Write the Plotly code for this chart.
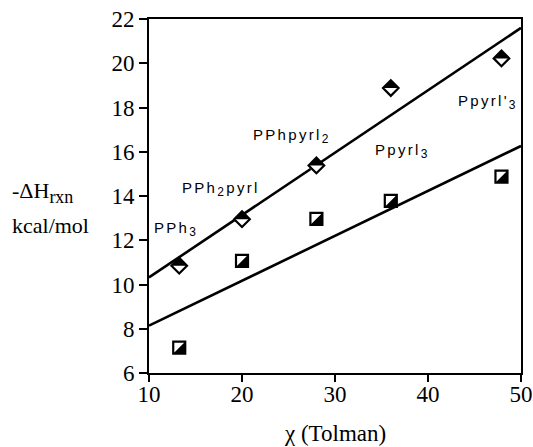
import plotly.graph_objects as go

# ---- data ----
chi = [13.25, 20.0, 28.0, 36.0, 47.9]
diamond_vals = [10.85, 12.95, 15.38, 18.88, 20.22]
square_vals = [7.15, 11.07, 12.97, 13.78, 14.88]
fit_x = [10, 50]
upper_fit = [10.32, 21.6]
lower_fit = [8.14, 16.26]

label_names = ["PPh", "PPh", "PPhpyrl", "Ppyrl", "Ppyrl'"]
label_subs = ["3", "2", "2", "3", "3"]
label_tails = ["", "pyrl", "", "", ""]
label_x = [10.3, 13.3, 20.95, 34.1, 43.06]
label_y = [12.52, 14.3, 16.72, 16.05, 18.27]

x_ticks = [10, 20, 30, 40, 50]
y_ticks = [6, 8, 10, 12, 14, 16, 18, 20, 22]

BLACK = "#000000"
SERIF = "Liberation Serif, Times New Roman, serif"
SANS = "Liberation Sans, Arial, sans-serif"

fig = go.Figure()

# fit lines
for yv in (upper_fit, lower_fit):
    fig.add_trace(go.Scatter(x=fit_x, y=yv, mode="lines",
                             line=dict(color=BLACK, width=2.6),
                             hoverinfo="skip", showlegend=False))

# diamonds: black fill, white lower half, outline
DS = 12
TD = 14.6
fig.add_trace(go.Scatter(x=chi, y=diamond_vals, mode="markers", showlegend=False,
                         marker=dict(symbol="diamond", size=DS, color=BLACK,
                                     line=dict(width=0))))
fig.add_trace(go.Scatter(x=chi, y=diamond_vals, mode="markers", showlegend=False,
                         marker=dict(symbol="triangle-down", size=TD, color="white",
                                     standoff=TD / 4, line=dict(width=0))))
fig.add_trace(go.Scatter(x=chi, y=diamond_vals, mode="markers", showlegend=False,
                         marker=dict(symbol="diamond-open", size=DS, color=BLACK,
                                     line=dict(width=2.2, color=BLACK))))

# squares: black fill, white upper-left half, outline
SS = 12
TS = 15.6
fig.add_trace(go.Scatter(x=chi, y=square_vals, mode="markers", showlegend=False,
                         marker=dict(symbol="square", size=SS, color=BLACK,
                                     line=dict(width=0))))
fig.add_trace(go.Scatter(x=chi, y=square_vals, mode="markers", showlegend=False,
                         marker=dict(symbol="triangle-down", size=TS, color="white",
                                     angle=135, standoff=TS / 4, line=dict(width=0))))
fig.add_trace(go.Scatter(x=chi, y=square_vals, mode="markers", showlegend=False,
                         marker=dict(symbol="square-open", size=SS, color=BLACK,
                                     line=dict(width=2.2, color=BLACK))))

SP = "letter-spacing:2.3px;fill:#000000"
annotations = []
for nm, sb, tl, lx, ly in zip(label_names, label_subs, label_tails, label_x, label_y):
    txt = ('<span style="' + SP + '">' + nm + '</span>'
           '<sub><span style="font-size:12px;' + SP + '">' + sb + '</span></sub>')
    if tl:
        txt += '<span style="' + SP + '">' + tl + '</span>'
    annotations.append(dict(
        x=lx, y=ly, xref="x", yref="y", xanchor="left", yanchor="middle",
        text=txt, showarrow=False, font=dict(family=SANS, size=15, color=BLACK)))

annotations.append(dict(x=-0.375, y=0.511, xref="paper", yref="paper",
                        xanchor="left", yanchor="middle",
                        text='-ΔH<sub><span style="font-size:18px">rxn</span></sub>',
                        showarrow=False,
                        font=dict(family=SERIF, size=22, color=BLACK)))
annotations.append(dict(x=-0.375, y=0.418, xref="paper", yref="paper",
                        xanchor="left", yanchor="middle",
                        text="kcal/mol", showarrow=False,
                        font=dict(family=SERIF, size=22, color=BLACK)))
annotations.append(dict(x=0.5, y=-0.172, xref="paper", yref="paper",
                        xanchor="center", yanchor="middle",
                        text="χ (Tolman)", showarrow=False,
                        font=dict(family=SERIF, size=23, color=BLACK)))

fig.update_layout(
    width=533, height=447,
    margin=dict(l=149, r=12, t=19, b=74, autoexpand=False),
    paper_bgcolor="white", plot_bgcolor="white",
    showlegend=False,
    annotations=annotations,
    xaxis=dict(range=[10, 50], tickvals=x_ticks, ticks="outside", ticklen=7,
               tickwidth=1.5, tickcolor=BLACK, showline=True, linecolor=BLACK,
               linewidth=2, mirror=True, showgrid=False, zeroline=False,
               automargin=False, ticklabelstandoff=-8,
               tickfont=dict(family=SERIF, size=23, color=BLACK)),
    yaxis=dict(range=[6, 22], tickvals=y_ticks, ticks="outside", ticklen=8,
               tickwidth=1.5, tickcolor=BLACK, showline=True, linecolor=BLACK,
               linewidth=2, mirror=True, showgrid=False, zeroline=False,
               automargin=False,
               tickfont=dict(family=SERIF, size=23, color=BLACK)),
)

fig.write_html("out.html")
